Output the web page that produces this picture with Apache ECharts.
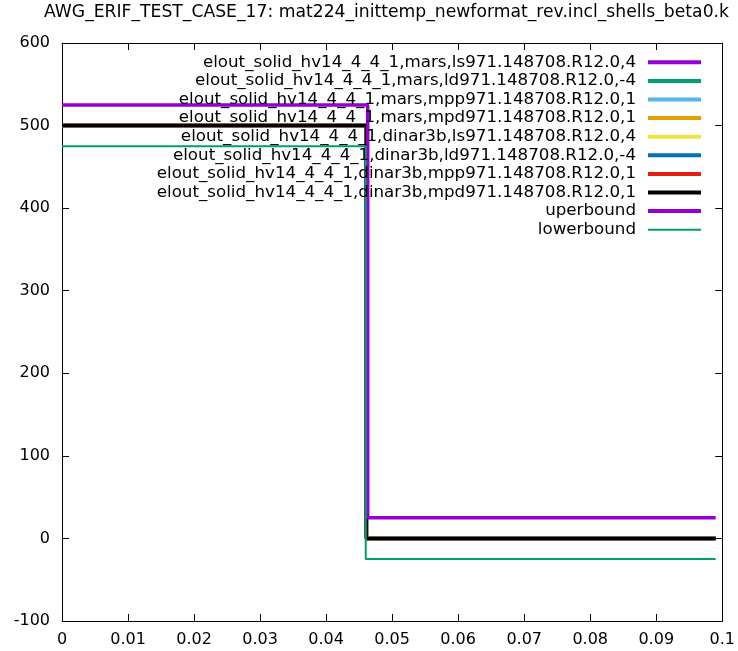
<!DOCTYPE html>
<html>
<head>
<meta charset="utf-8">
<script src="https://cdn.jsdelivr.net/npm/echarts@6/dist/echarts.min.js"></script>
<style>html,body{margin:0;padding:0;background:#fff}#c{width:738px;height:651px}</style>
</head>
<body>
<div id="c"></div>
<script>
var titleText = 'AWG_ERIF_TEST_CASE_17: mat224_inittemp_newformat_rev.incl_shells_beta0.k';
var seriesNames = [
  'elout_solid_hv14_4_4_1,mars,ls971.148708.R12.0,4',
  'elout_solid_hv14_4_4_1,mars,ld971.148708.R12.0,-4',
  'elout_solid_hv14_4_4_1,mars,mpp971.148708.R12.0,1',
  'elout_solid_hv14_4_4_1,mars,mpd971.148708.R12.0,1',
  'elout_solid_hv14_4_4_1,dinar3b,ls971.148708.R12.0,4',
  'elout_solid_hv14_4_4_1,dinar3b,ld971.148708.R12.0,-4',
  'elout_solid_hv14_4_4_1,dinar3b,mpp971.148708.R12.0,1',
  'elout_solid_hv14_4_4_1,dinar3b,mpd971.148708.R12.0,1'
];
var seriesColors = ['#9400d3','#009e73','#56b4e9','#e69f00','#f0e442','#0072b2','#e51e10','#000000'];
// simulation curves (all identical step)
var dataTime = [0, 0.0461, 0.0461, 0.099];
var dataValues = [500, 500, 0, 0];
// bounds
var upperTime = [0, 0.0463, 0.0463, 0.099];
var upperValues = [525, 525, 25, 25];
var lowerTime = [0, 0.0460, 0.0460, 0.099];
var lowerValues = [475, 475, -25, -25];
var xTicks = {min: 0, max: 0.1, interval: 0.01};
var yTicks = {min: -100, max: 600, interval: 100};

function pairs(xs, ys) { return xs.map(function (x, i) { return [x, ys[i]]; }); }

var series = [];
seriesNames.forEach(function (n, i) {
  series.push({
    name: n, type: 'line', data: pairs(dataTime, dataValues),
    showSymbol: false, symbol: 'none', color: seriesColors[i],
    lineStyle: {width: 3.5, color: seriesColors[i]}
  });
});
series.push({name: 'uperbound', type: 'line', data: pairs(upperTime, upperValues),
  showSymbol: false, symbol: 'none', color: '#9400d3', lineStyle: {width: 3.5, color: '#9400d3'}});
series.push({name: 'lowerbound', type: 'line', data: pairs(lowerTime, lowerValues),
  showSymbol: false, symbol: 'none', color: '#009e73', lineStyle: {width: 2, color: '#009e73'}});

var legendData = seriesNames.map(function (n) { return {name: n}; });
legendData.push({name: 'uperbound'});
legendData.push({name: 'lowerbound', icon: 'path://M0,0H26V1H0Z'});

var font = 'DejaVu Sans, Liberation Sans, sans-serif';
var chart = echarts.init(document.getElementById('c'), null, {renderer: 'canvas'});
chart.setOption({
  animation: false,
  backgroundColor: '#fff',
  title: {text: titleText, left: 44, top: 4, padding: 0,
    textStyle: {fontFamily: font, fontSize: 17.2, fontWeight: 'normal', color: '#000'}},
  grid: {left: 62, right: 15, top: 43, bottom: 30, containLabel: false},
  legend: {
    orient: 'vertical', align: 'right', right: 32, top: 48,
    itemWidth: 53, itemHeight: 4, itemGap: 0, icon: 'rect',
    selectedMode: false,
    itemStyle: {borderWidth: 0},
    textStyle: {fontFamily: font, fontSize: 16.7, color: '#000', lineHeight: 18.6, padding: [0, 7, 0, 0]},
    data: legendData
  },
  xAxis: [{
    type: 'value', min: xTicks.min, max: xTicks.max, interval: xTicks.interval, position: 'bottom',
    axisLine: {onZero: false, lineStyle: {color: '#000', width: 1}},
    axisTick: {inside: true, length: 7, lineStyle: {color: '#000'}},
    axisLabel: {color: '#000', fontFamily: font, fontSize: 16, margin: 11},
    splitLine: {show: false}
  }, {
    type: 'value', min: xTicks.min, max: xTicks.max, interval: xTicks.interval, position: 'top',
    axisLine: {onZero: false, lineStyle: {color: '#000', width: 1}},
    axisTick: {inside: true, length: 7, lineStyle: {color: '#000'}},
    axisLabel: {show: false}, splitLine: {show: false}
  }],
  yAxis: [{
    type: 'value', min: yTicks.min, max: yTicks.max, interval: yTicks.interval, position: 'left',
    axisLine: {show: true, onZero: false, lineStyle: {color: '#000', width: 1}},
    axisTick: {show: true, inside: true, length: 7, lineStyle: {color: '#000'}},
    axisLabel: {color: '#000', fontFamily: font, fontSize: 16, margin: 12},
    splitLine: {show: false}
  }, {
    type: 'value', min: yTicks.min, max: yTicks.max, interval: yTicks.interval, position: 'right',
    axisLine: {show: true, onZero: false, lineStyle: {color: '#000', width: 1}},
    axisTick: {show: true, inside: true, length: 7, lineStyle: {color: '#000'}},
    axisLabel: {show: false}, splitLine: {show: false}
  }],
  series: series
});
</script>
</body>
</html>
